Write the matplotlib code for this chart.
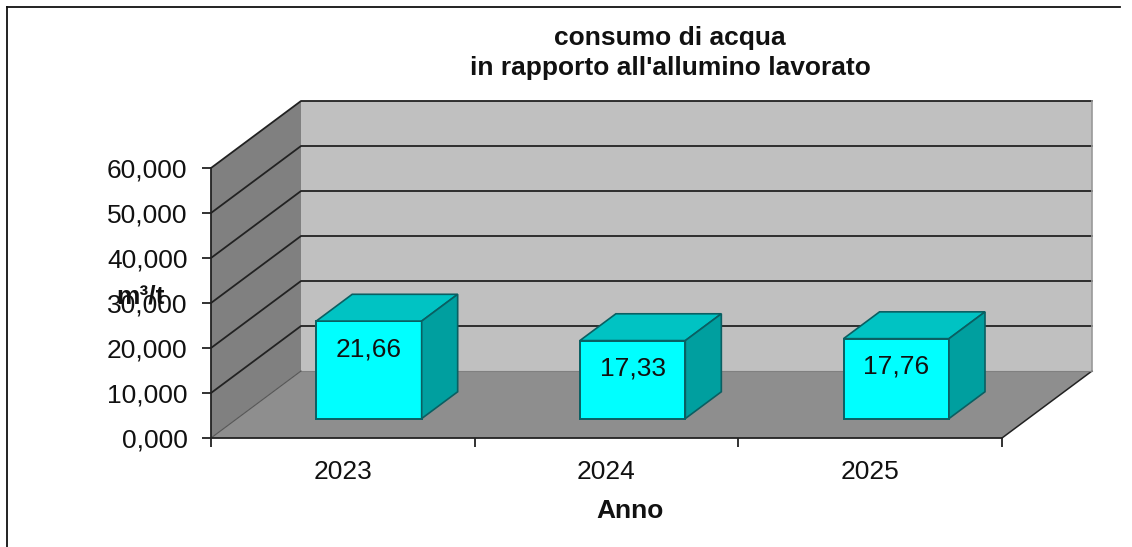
"""Water use per tonne of aluminium, drawn as an Excel style 3D column chart."""

import matplotlib
matplotlib.use("Agg")
import matplotlib.pyplot as plt
from matplotlib.patches import Polygon

years = ["2023", "2024", "2025"]
values = [21.66, 17.33, 17.76]
value_labels = ["21,66", "17,33", "17,76"]
y_ticks = [0, 10, 20, 30, 40, 50, 60]
y_tick_labels = ["0,000", "10,000", "20,000", "30,000", "40,000", "50,000", "60,000"]

W, H = 1132, 547
AX_LEFT, AX_RIGHT = 211, 1002
AX_TOP, AX_BOTTOM = 168, 438

# depth of the box in data units (90 px across, 67 px up)
DEPTH_X = 90 / ((AX_RIGHT - AX_LEFT) / 3)
DEPTH_Y = 67 / ((AX_BOTTOM - AX_TOP) / 60)
BAR_WIDTH = 0.4
BAR_D0, BAR_D1 = 0.29, 0.69
DARK = "#222222"
TEXT = "#111111"

plt.rcParams["font.family"] = ["Liberation Sans", "DejaVu Sans"]

fig = plt.figure(figsize=(W / 100, H / 100), dpi=100, facecolor="white")
ax = fig.add_axes([AX_LEFT / W, 1 - AX_BOTTOM / H, (AX_RIGHT - AX_LEFT) / W, (AX_BOTTOM - AX_TOP) / H])
ax.set_xlim(0, 3)
ax.set_ylim(0, 60)
ax.patch.set_visible(False)
for name in ["top", "right"]:
    ax.spines[name].set_visible(False)
for name in ["left", "bottom"]:
    ax.spines[name].set_linewidth(1.3)
    ax.spines[name].set_color(DARK)
    ax.spines[name].set_zorder(6)


def proj(x, v, d):
    """Map category x, value v and depth d (0 front, 1 back) to data coords."""
    return (x + d * DEPTH_X, v + d * DEPTH_Y)


def face(points, color, edge=DARK, lw=0, z=1):
    ax.add_patch(Polygon(points, closed=True, facecolor=color, edgecolor=edge,
                         linewidth=lw, zorder=z, clip_on=False))


# walls and floor
face([proj(0, 0, 1), proj(3, 0, 1), proj(3, 60, 1), proj(0, 60, 1)], "#c0c0c0")
face([proj(0, 0, 0), proj(0, 0, 1), proj(0, 60, 1), proj(0, 60, 0)], "#808080")
face([proj(0, 0, 0), proj(3, 0, 0), proj(3, 0, 1), proj(0, 0, 1)], "#8e8e8e")

# gridlines run across the side wall and the back wall
for v in y_ticks[1:]:
    xs, ys = zip(proj(0, v, 0), proj(0, v, 1), proj(3, v, 1))
    ax.plot(xs, ys, color=DARK, lw=1.3, zorder=2, clip_on=False)

# edges of the box
xs, ys = zip(proj(3, 0, 0), proj(3, 0, 1), proj(3, 60, 1))
ax.plot(xs[:2], ys[:2], color=DARK, lw=1.1, zorder=2, clip_on=False)
ax.plot(xs[1:], ys[1:], color="#999999", lw=1.2, zorder=2, clip_on=False)
xs, ys = zip(proj(0, 0, 1), proj(3, 0, 1))
ax.plot(xs, ys, color="#808080", lw=0.8, zorder=2, clip_on=False)
xs, ys = zip(proj(0, 0, 0), proj(0, 0, 1))
ax.plot(xs, ys, color="#555555", lw=0.8, zorder=2, clip_on=False)

# columns
for i, v in enumerate(values):
    x0 = i + 0.5 - BAR_WIDTH / 2
    x1 = i + 0.5 + BAR_WIDTH / 2
    face([proj(x0, 0, BAR_D0), proj(x1, 0, BAR_D0), proj(x1, v, BAR_D0), proj(x0, v, BAR_D0)],
         "#00ffff", "#0a5f62", 1.4, 3)
    face([proj(x0, v, BAR_D0), proj(x1, v, BAR_D0), proj(x1, v, BAR_D1), proj(x0, v, BAR_D1)],
         "#00c3c3", "#0a5f62", 1.2, 3)
    face([proj(x1, 0, BAR_D0), proj(x1, 0, BAR_D1), proj(x1, v, BAR_D1), proj(x1, v, BAR_D0)],
         "#009f9f", "#0a5f62", 1.2, 3)
    lx, ly = proj(i + 0.5, v, BAR_D0)
    ax.annotate(value_labels[i], (lx, ly), xytext=(0, -28), textcoords="offset pixels",
                ha="center", va="center", fontsize=19, color=TEXT, zorder=7)

ax.set_yticks(y_ticks, y_tick_labels)
ax.set_xticks([0, 1, 2, 3])
ax.set_xticklabels([])
ax.tick_params(axis="both", color=DARK, width=1.3, length=6.5, direction="out")
ax.tick_params(axis="y", labelsize=19, labelcolor=TEXT, pad=10.5)

for i, year in enumerate(years):
    ax.annotate(year, (i + 0.5, 0), xytext=(0, -34), textcoords="offset pixels",
                ha="center", va="center", fontsize=19, color=TEXT)

fig.text(670 / W, 1 - 38 / H, "consumo di acqua", ha="center", va="center",
         fontsize=19, fontweight="bold", color=TEXT)
fig.text(670 / W, 1 - 68 / H, "in rapporto all'allumino lavorato", ha="center", va="center",
         fontsize=19, fontweight="bold", color=TEXT)
fig.text(630 / W, 1 - 511 / H, "Anno", ha="center", va="center",
         fontsize=19, fontweight="bold", color=TEXT)
fig.text(141 / W, 1 - 296 / H, "m³/t", ha="center", va="center",
         fontsize=19, fontweight="bold", color=TEXT, zorder=8)

# outer frame of the picture
fig.add_artist(plt.Line2D([6.5 / W, 6.5 / W], [0, 1 - 6.5 / H], color=TEXT, lw=1.3))
fig.add_artist(plt.Line2D([6.5 / W, 1120 / W], [1 - 6.5 / H, 1 - 6.5 / H], color=TEXT, lw=1.3))

fig.savefig("out.png", dpi=100)
